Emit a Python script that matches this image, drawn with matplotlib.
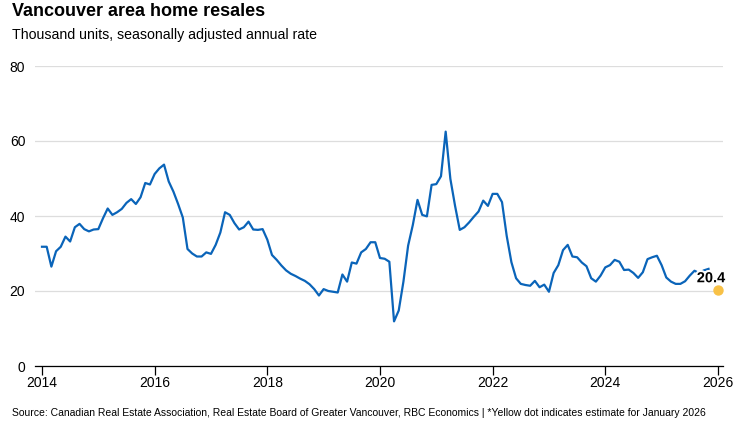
import matplotlib
matplotlib.use("Agg")
import matplotlib.pyplot as plt
import matplotlib.patheffects as pe
import numpy as np

plt.rcParams['font.family'] = ['Liberation Sans', 'DejaVu Sans']

# monthly resales, thousand units SAAR, Jan 2014 onward
resales = [
    31.8, 31.8, 26.5, 30.6, 31.8, 34.5, 33.2, 37.0, 37.9, 36.5, 35.9, 36.4,   # 2014
    36.5, 39.4, 42.0, 40.3, 41.0, 41.9, 43.5, 44.5, 43.2, 45.0, 48.8, 48.4,   # 2015
    51.2, 52.7, 53.7, 49.2, 46.5, 43.2, 39.6, 31.2, 30.0, 29.2, 29.2, 30.3,   # 2016
    29.9, 32.3, 35.6, 41.0, 40.3, 38.1, 36.4, 37.0, 38.5, 36.4, 36.3, 36.5,   # 2017
    33.7, 29.6, 28.3, 26.8, 25.5, 24.6, 24.0, 23.3, 22.7, 21.8, 20.5, 18.8,   # 2018
    20.5, 20.0, 19.8, 19.6, 24.4, 22.5, 27.6, 27.3, 30.3, 31.2, 33.0, 33.0,   # 2019
    28.8, 28.6, 27.8, 11.9, 14.8, 22.5, 32.1, 37.6, 44.3, 40.3, 39.9, 48.3,   # 2020
    48.5, 50.6, 62.5, 49.9, 42.7, 36.3, 37.0, 38.3, 39.8, 41.2, 44.1, 42.7,   # 2021
    45.9, 45.9, 43.7, 34.7, 27.7, 23.4, 21.9, 21.6, 21.4, 22.7, 21.0, 21.7,   # 2022
    19.8, 24.8, 26.9, 30.9, 32.3, 29.2, 29.0, 27.6, 26.6, 23.4, 22.5, 24.1,   # 2023
    26.3, 26.9, 28.3, 27.8, 25.6, 25.7, 24.8, 23.5, 25.0, 28.5, 29.0, 29.4,   # 2024
    26.9, 23.6, 22.5, 21.9, 21.9, 22.6, 24.1, 25.4, 24.8, 25.5, 25.9,         # 2025
]
start_year = 2014
estimate_x = 2026.0
estimate_val = 20.4

years = start_year + np.arange(len(resales)) / 12.0

fig = plt.figure(figsize=(7.35, 4.29), dpi=100)
ax = fig.add_axes([35/735, 1-366/429, (723-35)/735, 300/429])

ax.plot(years, resales, color='#0a64b9', lw=1.6, solid_joinstyle='round', zorder=3)
ax.scatter([estimate_x], [estimate_val], s=42, color='#f8c146', zorder=4, clip_on=False)
ax.text(estimate_x - 0.12, estimate_val + 3.0, f"{estimate_val}", fontsize=10.5,
        fontweight='bold', ha='center', va='center', zorder=5,
        path_effects=[pe.withStroke(linewidth=3, foreground='white')])

ax.set_xlim(2013.876, 2026.09)
ax.set_ylim(0, 80)
ax.set_xticks(range(2014, 2027, 2))
ax.set_yticks(range(0, 81, 20))
ax.grid(axis='y', color='#dddddd', lw=0.9)
ax.set_axisbelow(True)
for s in ['top', 'right', 'left']:
    ax.spines[s].set_visible(False)
ax.spines['bottom'].set_color('black')
ax.spines['bottom'].set_linewidth(0.9)
ax.tick_params(axis='x', length=6.5, width=0.9, pad=1, labelsize=10)
ax.tick_params(axis='y', length=0, pad=7, labelsize=10)

fig.text(12/735, 1-12/429, "Vancouver area home resales", fontsize=13,
         fontweight='bold', va='center', ha='left')
fig.text(12/735, 1-35/429, "Thousand units, seasonally adjusted annual rate",
         fontsize=10.2, va='center', ha='left')
fig.text(12/735, 1-413/429,
         "Source: Canadian Real Estate Association, Real Estate Board of Greater Vancouver, "
         "RBC Economics | *Yellow dot indicates estimate for January 2026",
         fontsize=7.5, va='center', ha='left')

fig.savefig("out.png", dpi=100)
